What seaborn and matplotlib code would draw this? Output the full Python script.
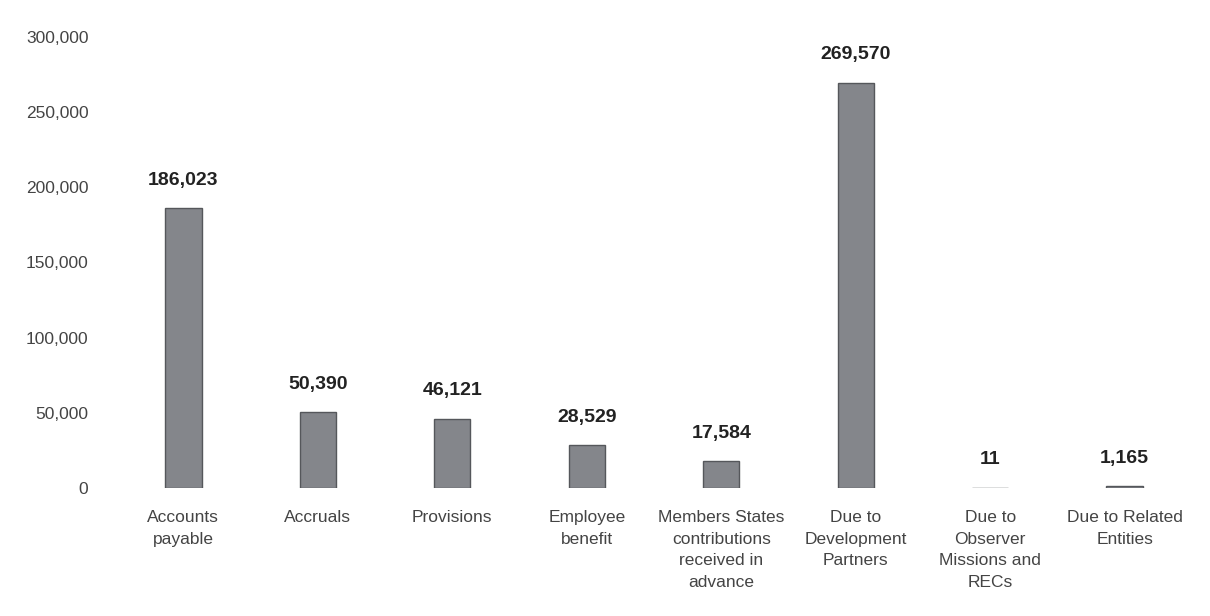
import matplotlib
matplotlib.use("Agg")
import matplotlib.pyplot as plt
import seaborn as sns
import pandas as pd
from matplotlib.ticker import FuncFormatter

categories = [
    "Accounts\npayable",
    "Accruals",
    "Provisions",
    "Employee\nbenefit",
    "Members States\ncontributions\nreceived in\nadvance",
    "Due to\nDevelopment\nPartners",
    "Due to\nObserver\nMissions and\nRECs",
    "Due to Related\nEntities",
]
values = [186023, 50390, 46121, 28529, 17584, 269570, 11, 1165]
yticks = [0, 50000, 100000, 150000, 200000, 250000, 300000]

sns.set_theme(style="white")
plt.rcParams['font.family'] = ['Liberation Sans', 'DejaVu Sans']

df = pd.DataFrame({"category": categories, "value": values})

fig = plt.figure(figsize=(12.1, 6.16), dpi=100)
ax = fig.add_axes([0.096, 0.208, 0.889, 0.732])
sns.barplot(data=df, x="category", y="value", ax=ax, color="#84868b",
            width=0.27, edgecolor="#55575b", linewidth=1.0, saturation=1)

ax.set_ylim(0, 300000)
ax.set_yticks(yticks)
ax.yaxis.set_major_formatter(FuncFormatter(lambda v, p: f"{int(v):,}"))
ax.set_xlabel("")
ax.set_ylabel("")
for s in ax.spines.values():
    s.set_visible(False)
ax.tick_params(axis="y", labelsize=12.5, colors="#444444", pad=20, length=0)
ax.tick_params(axis="x", labelsize=12.5, colors="#444444", pad=16, length=0)
for lbl in ax.get_xticklabels():
    lbl.set_linespacing(1.55)

for i, v in enumerate(values):
    ax.annotate(f"{v:,}", (i, v), xytext=(0, 14), textcoords="offset points",
                ha="center", va="bottom", fontsize=14, fontweight="bold",
                color="#222222")

fig.savefig("out.png", dpi=100, facecolor="white")
